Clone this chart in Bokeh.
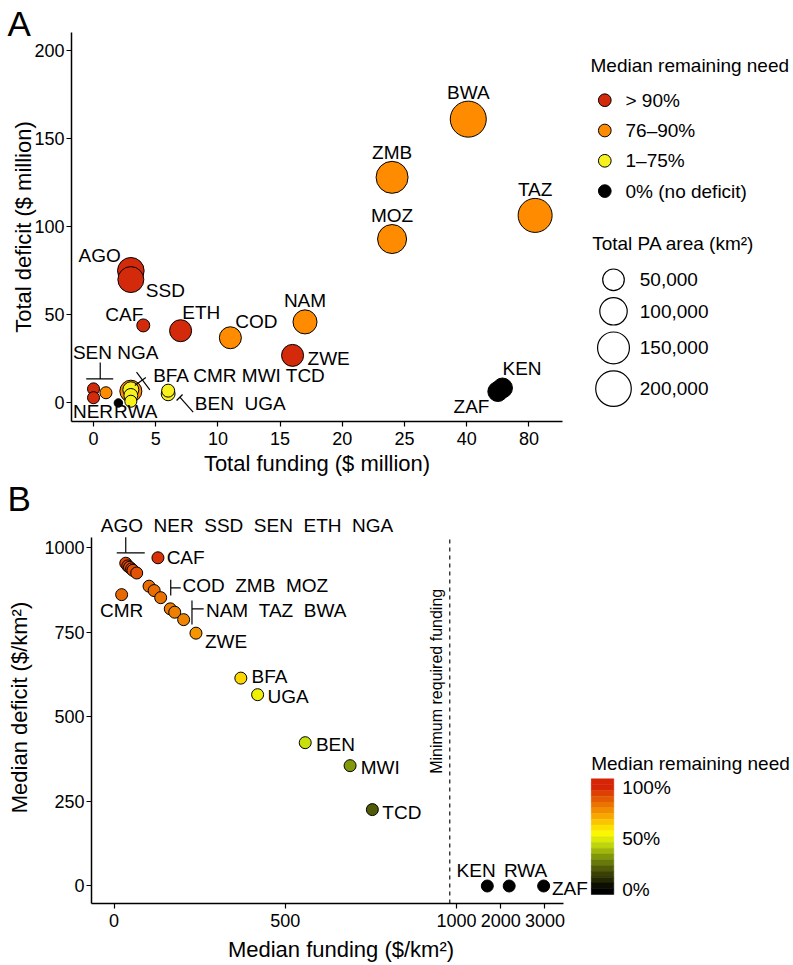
import math
from bokeh.plotting import figure
from bokeh.layouts import row, column
from bokeh.models import Range1d, FixedTicker
from bokeh.core.properties import value
from bokeh.embed import file_html
from bokeh.resources import INLINE

FONT = "Liberation Sans"
SP2 = " \u00a0"   # a double space that SVG keeps

# ---------------- Panel A data ----------------
a_country = ["BWA", "TAZ", "ZMB", "MOZ", "AGO", "SSD", "NAM", "ETH", "COD", "ZWE", "CMR", "KEN",
             "ZAF", "BFA", "MWI", "BEN", "UGA", "CAF", "SEN", "NER", "NGA", "TCD", "RWA"]
a_funding = [41, 84, 24, 24, 3, 3, 17, 7, 11, 16, 3, 63, 60, 3, 3, 6, 6, 4, 0, 0, 1, 3, 2]          # $ million
a_deficit = [161, 106.4, 128, 93, 75, 70, 46, 41, 37, 27, 6.7, 8.5, 6.5, 7.5, 4.3, 5.2, 7, 44, 8, 3, 5.8, 1, 0]  # $ million
a_area = [206000, 178000, 152000, 117000, 92000, 86000, 69000, 53000, 53000, 53000, 53000, 39000,
          39000, 18000, 10000, 10000, 7400, 7400, 5000, 5000, 5000, 5000, 200]                       # km2
a_class = [1, 1, 1, 1, 0, 0, 1, 0, 1, 0, 1, 3, 3, 2, 2, 2, 2, 0, 0, 0, 1, 2, 3]

need_classes = ["> 90%", "76\u201390%", "1\u201375%", "0% (no deficit)"]
need_colors = ["#D42A0C", "#FF8C00", "#F7F11E", "#000000"]
size_breaks = [50000, 100000, 150000, 200000]
size_labels = ["50,000", "100,000", "150,000", "200,000"]
a_xticks = [0, 5, 10, 15, 20, 25, 40, 80]
a_yticks = [0, 50, 100, 150, 200]

# ---------------- Panel B data ----------------
b_country = ["AGO", "NER", "SSD", "SEN", "ETH", "NGA", "CAF", "CMR", "COD", "ZMB", "MOZ", "NAM",
             "TAZ", "BWA", "ZWE", "BFA", "UGA", "BEN", "MWI", "TCD", "KEN", "RWA", "ZAF"]
b_funding = [34, 40, 45, 51, 55, 66, 128, 22, 102, 117, 136, 164, 177, 203, 239, 370, 419, 558, 689,
             754, 1695, 2190, 2970]     # $/km2
b_deficit = [955, 947, 943, 938, 934, 926, 971, 862, 887, 874, 853, 820, 810, 788, 748, 615, 566,
             424, 356, 226, 0, 0, 0]    # $/km2
b_need = [93, 93, 92, 92, 91, 90, 97, 85, 84, 84, 83, 81, 80, 79, 75, 62, 52, 45, 32, 20, 0, 0, 0]  # %
min_required = 980
b_xticks = [0, 500, 1000, 2000, 3000]
b_yticks = [0, 250, 500, 750, 1000]
cbar_ticks = [0, 50, 100]

# ---------------- helpers ----------------
LAB_PX = 19
CAP = 0.358 * LAB_PX      # baseline -> cap-centre distance


def ax_t(v):
    if v <= 25:
        return v
    if v <= 40:
        return 25 + (v - 25) / 3.0
    return 30 + (v - 40) / 8.0


def bx_t(v):
    return v if v <= 1000 else 1000 + (v - 1000) * 0.129


def radius_px(area):
    return 3.8 + 0.0313 * math.sqrt(area)


GRAD = [(0.00, (0, 0, 0)), (0.15, (60, 66, 5)), (0.30, (122, 142, 10)), (0.45, (200, 225, 12)),
        (0.55, (255, 248, 0)), (0.75, (244, 150, 0)), (1.00, (214, 36, 6))]


def grad_color(pct):
    t = min(max(pct / 100.0, 0.0), 1.0)
    for (t0, c0), (t1, c1) in zip(GRAD[:-1], GRAD[1:]):
        if t <= t1:
            f = (t - t0) / (t1 - t0)
            c = [round(c0[k] + f * (c1[k] - c0[k])) for k in range(3)]
            return "#%02x%02x%02x" % tuple(c)
    return "#%02x%02x%02x" % GRAD[-1][1]


def style_axes(p, ylab_standoff, xlab_standoff):
    for ax in (p.xaxis[0], p.yaxis[0]):
        ax.axis_line_color = "black"
        ax.axis_line_width = 1.5
        ax.major_tick_line_color = "black"
        ax.major_tick_line_width = 1.2
        ax.major_tick_out = 5
        ax.major_tick_in = 0
        ax.minor_tick_line_color = None
        ax.major_label_text_font = FONT
        ax.major_label_text_font_size = "18px"
        ax.major_label_text_color = "black"
        ax.axis_label_text_font = FONT
        ax.axis_label_text_font_size = "22px"
        ax.axis_label_text_font_style = "normal"
        ax.axis_label_text_color = "black"
    p.xaxis[0].major_label_standoff = 5
    p.yaxis[0].major_label_standoff = 2
    p.xaxis[0].axis_label_standoff = xlab_standoff
    p.yaxis[0].axis_label_standoff = ylab_standoff
    p.grid.visible = False
    p.outline_line_color = None
    p.border_fill_color = None


def page_fig(x0, w, h, top, bottom, y_top, y_bot):
    # a plain transparent canvas whose data units are page pixels (y downwards)
    f = figure(width=w, height=h, x_range=Range1d(x0, x0 + w), y_range=Range1d(y_bot, y_top),
               x_axis_type=None, y_axis_type=None, toolbar_location=None, output_backend="svg",
               min_border_left=0, min_border_right=0, min_border_top=top, min_border_bottom=bottom)
    f.outline_line_color = None
    f.background_fill_color = None
    f.border_fill_color = None
    return f


def txt(p, xs, ys, texts, size="19px", align="left"):
    p.text(x=xs, y=ys, text=texts, text_font=value(FONT), text_font_size=size, text_color="black",
           text_align=align, text_baseline="middle")


def add_labels(p, xs, ys, texts, aligns):
    for al in ("left", "center", "right"):
        idx = [i for i, a in enumerate(aligns) if a == al]
        if idx:
            txt(p, [xs[i] for i in idx], [ys[i] for i in idx], [texts[i] for i in idx],
                "%dpx" % LAB_PX, al)


# page layout (pixels from the top of the page)
A_FRAME_TOP, A_FRAME_BOT = 32, 421
ROW_A_END = 480
B_FRAME_TOP, B_FRAME_BOT = 511, 903

# ======================= strip with letter A =======================
STRIP_A = 44
sA = page_fig(0, 793, STRIP_A, 0, 0, 0, STRIP_A)
txt(sA, [7], [22.5], ["A"], "35px")

# ======================= PANEL A =======================
A_W, A_H = 580, ROW_A_END - A_FRAME_TOP
A_L, A_FW, A_FH = 71, 491, A_FRAME_BOT - A_FRAME_TOP
AX0, AX1 = -1.77, 37.7
AY0 = -10.5
AY1 = AY0 + A_FH / 1.763
uxa = (AX1 - AX0) / A_FW
uya = (AY1 - AY0) / A_FH

pA = figure(width=A_W, height=A_H, x_range=Range1d(AX0, AX1), y_range=Range1d(AY0, AY1),
            toolbar_location=None, output_backend="svg",
            min_border_left=A_L, min_border_top=0, min_border_right=A_W - A_L - A_FW,
            min_border_bottom=A_H - A_FH)
style_axes(pA, -5, 3)
pA.xaxis[0].axis_label = "Total funding ($ million)"
pA.yaxis[0].axis_label = "Total deficit ($ million)"
pA.xaxis[0].ticker = FixedTicker(ticks=[ax_t(t) for t in a_xticks])
pA.xaxis[0].major_label_overrides = {ax_t(t): str(t) for t in a_xticks}
pA.yaxis[0].ticker = FixedTicker(ticks=a_yticks)

order = sorted(range(len(a_country)), key=lambda i: -a_area[i])
pA.scatter(x=[ax_t(a_funding[i]) for i in order], y=[a_deficit[i] for i in order],
           size=[2 * radius_px(a_area[i]) for i in order],
           fill_color=[need_colors[a_class[i]] for i in order],
           line_color="black", line_width=1.0)

# label layout: country -> (text, align, dx px, dy px of baseline, +down)
a_lab = {
    "BWA": ("BWA", "center", 0, -20), "ZMB": ("ZMB", "center", 0, -18.4),
    "MOZ": ("MOZ", "center", 0, -16.6), "TAZ": ("TAZ", "center", 0, -19),
    "NAM": ("NAM", "center", 0, -15), "AGO": ("AGO", "right", -10, -8.3),
    "SSD": ("SSD", "left", 15, 17.7), "CAF": ("CAF", "right", 0, -4.3),
    "ETH": ("ETH", "left", 1.7, -11.7), "COD": ("COD", "left", 5, -9),
    "ZWE": ("ZWE", "left", 15, 10), "KEN": ("KEN", "left", 0, -12.7),
    "ZAF": ("ZAF", "right", -8.4, 21.7), "SEN": ("SEN NGA", "left", -20.6, -30),
    "NER": ("NER", "left", -20.6, 21), "RWA": ("RWA", "left", -4.3, 15.6),
    "BFA": ("BFA CMR MWI TCD", "left", 22.3, -7.6), "BEN": ("BEN" + SP2 + "UGA", "left", 26.7, 16.7),
}
a_brackets = {
    "SEN": [(-7.3, -10, 19.7, -10), (6.7, -26.3, 6.7, -10)],
    "BFA": [(5.7, -17.6, 19, 0), (4, -4.3, 15, -12.3)],
    "BEN": [(11.7, 3.4, 25, 18.4), (8.4, 6.7, 14.4, 0.7)],
}
lx, ly, lt, la = [], [], [], []
for c, (t_, al, dx, dy) in a_lab.items():
    i = a_country.index(c)
    lx.append(ax_t(a_funding[i]) + dx * uxa)
    ly.append(a_deficit[i] - (dy - CAP) * uya)
    lt.append(t_)
    la.append(al)
add_labels(pA, lx, ly, lt, la)
sx0, sy0, sx1, sy1 = [], [], [], []
for c, segs in a_brackets.items():
    i = a_country.index(c)
    bx, by = ax_t(a_funding[i]), a_deficit[i]
    for (x0, y0, x1, y1) in segs:
        sx0.append(bx + x0 * uxa); sy0.append(by - y0 * uya)
        sx1.append(bx + x1 * uxa); sy1.append(by - y1 * uya)
pA.segment(x0=sx0, y0=sy0, x1=sx1, y1=sy1, line_color="black", line_width=1.2)

# legend A (page-pixel coordinates)
lA = page_fig(A_W, 793 - A_W, A_H, 0, A_H - A_FH, A_FRAME_TOP, A_FRAME_BOT)
txt(lA, [590], [72 - CAP], ["Median remaining need"])
key_y = [99.7 + 30.3 * k for k in range(len(need_classes))]
lA.scatter(x=[604.3] * len(need_classes), y=key_y, size=12.7, fill_color=need_colors,
           line_color="black", line_width=1.0)
txt(lA, [625] * len(need_classes), key_y, need_classes)
txt(lA, [591.7], [250 - CAP], ["Total PA area (km\u00b2)"])
rads = [radius_px(b) for b in size_breaks]
cy = []
for k, r in enumerate(rads):
    cy.append(279.3 if k == 0 else cy[-1] + rads[k - 1] + 7 + r)
lA.scatter(x=[613] * len(rads), y=cy, size=[2 * r for r in rads], fill_color="white",
           line_color="black", line_width=1.2)
txt(lA, [639.3] * len(rads), cy, size_labels)

# ======================= strip with letter B =======================
SB_TOP, SB_BOT = 476, 521
sB = page_fig(0, 793, SB_BOT - SB_TOP, 0, 0, SB_TOP, SB_BOT)
txt(sB, [7], [497.5], ["B"], "35px")

# ======================= PANEL B =======================
B_W, B_H = 590, 965 - B_FRAME_TOP
B_L = 91
B_FW = B_W - B_L
B_FH = B_FRAME_BOT - B_FRAME_TOP
BX0 = -66
BX1 = BX0 + B_FW / 0.3425
BY0 = -51.8
BY1 = BY0 + B_FH / 0.338
BX_END, BY_END = 1312, 1031      # extent of the drawn axis lines
uxb = (BX1 - BX0) / B_FW
uyb = (BY1 - BY0) / B_FH

pB = figure(width=B_W, height=B_H, x_range=Range1d(BX0, BX1), y_range=Range1d(BY0, BY1),
            toolbar_location=None, output_backend="svg",
            min_border_left=B_L, min_border_top=0, min_border_right=0,
            min_border_bottom=B_H - B_FH)
style_axes(pB, 9, 7)
pB.xaxis[0].axis_label = "Median funding ($/km\u00b2)"
pB.yaxis[0].axis_label = "Median deficit ($/km\u00b2)"
pB.xaxis[0].ticker = FixedTicker(ticks=[bx_t(t) for t in b_xticks])
pB.xaxis[0].major_label_overrides = {bx_t(t): str(t) for t in b_xticks}
pB.yaxis[0].ticker = FixedTicker(ticks=b_yticks)
pB.xaxis[0].bounds = (BX0, BX_END)
pB.yaxis[0].bounds = (BY0, BY_END)

pB.segment(x0=[bx_t(min_required)], y0=[BY0], x1=[bx_t(min_required)], y1=[BY_END],
           line_color="#222222", line_width=1.3, line_dash="4 4")
pB.text(x=[bx_t(min_required) - 13 * uxb], y=[BY0 + 129.7 * uyb], text=["Minimum required funding"],
        angle=math.pi / 2, text_font=value(FONT), text_font_size="16px", text_color="black",
        text_align="left", text_baseline="middle")

pB.scatter(x=[bx_t(v) for v in b_funding], y=b_deficit, size=12,
           fill_color=[grad_color(v) for v in b_need], line_color="black", line_width=1.0)

b_lab = {
    "AGO": (SP2.join(["AGO", "NER", "SSD", "SEN", "ETH", "NGA"]), "left", -25, -31),
    "CAF": ("CAF", "left", 8.7, 6.7), "CMR": ("CMR", "center", 0, 22.7),
    "COD": (SP2.join(["COD", "ZMB", "MOZ"]), "left", 33.4, 6),
    "NAM": (SP2.join(["NAM", "TAZ", "BWA"]), "left", 35.7, 8.4),
    "ZWE": ("ZWE", "left", 9, 15.6), "BFA": ("BFA", "left", 10.7, 5.6),
    "UGA": ("UGA", "left", 10, 9), "BEN": ("BEN", "left", 10.7, 8.4),
    "MWI": ("MWI", "left", 10.7, 8.3), "TCD": ("TCD", "left", 10, 10),
    "KEN": ("KEN", "left", -30.7, -8.7), "RWA": ("RWA", "left", -5.3, -8.7),
    "ZAF": ("ZAF", "left", 8.3, 9),
}
b_brackets = {
    "AGO": [(0, -26, 0, -10.4), (-9, -10.4, 19, -10.4)],
    "COD": [(21.7, -6.4, 21.7, 9.3), (21.7, 1.6, 31.7, 1.6)],
    "NAM": [(21.7, -8.3, 21.7, 15.7), (21.7, 0, 33.4, 0)],
}
lx, ly, lt, la = [], [], [], []
for c, (t_, al, dx, dy) in b_lab.items():
    i = b_country.index(c)
    lx.append(bx_t(b_funding[i]) + dx * uxb)
    ly.append(b_deficit[i] - (dy - CAP) * uyb)
    lt.append(t_)
    la.append(al)
add_labels(pB, lx, ly, lt, la)
sx0, sy0, sx1, sy1 = [], [], [], []
for c, segs in b_brackets.items():
    i = b_country.index(c)
    bx, by = bx_t(b_funding[i]), b_deficit[i]
    for (x0, y0, x1, y1) in segs:
        sx0.append(bx + x0 * uxb); sy0.append(by - y0 * uyb)
        sx1.append(bx + x1 * uxb); sy1.append(by - y1 * uyb)
pB.segment(x0=sx0, y0=sy0, x1=sx1, y1=sy1, line_color="black", line_width=1.2)

# colour bar legend B (page-pixel coordinates)
lB = page_fig(B_W, 793 - B_W, B_H, 0, B_H - B_FH, B_FRAME_TOP, B_FRAME_BOT)
txt(lB, [590.7], [770 - CAP], ["Median remaining need"])
bar_top, bar_bot, nb = 778.3, 894.0, 20
y0pct, y100pct = 888.5, 786.7
bh = (bar_bot - bar_top) / nb
tops = [bar_top + k * bh for k in range(nb)]
bots = [t + bh for t in tops]
cols = [grad_color((y0pct - (t + bh / 2)) / (y0pct - y100pct) * 100) for t in tops]
lB.quad(left=590.7, right=613.3, top=tops, bottom=bots, fill_color=cols, line_color=cols, line_width=0.5)
txt(lB, [621.7] * len(cbar_ticks), [y0pct - v / 100 * (y0pct - y100pct) for v in cbar_ticks],
    ["%d%%" % v for v in cbar_ticks])

rowA = row(pA, lA)
rowA.margin = (A_FRAME_TOP - STRIP_A, 0, 0, 0)
sB.margin = (SB_TOP - ROW_A_END, 0, 0, 0)
rowB = row(pB, lB)
rowB.margin = (B_FRAME_TOP - SB_BOT, 0, 0, 0)
layout = column(sA, rowA, sB, rowB)
open("out.html", "w").write(file_html(layout, INLINE))
